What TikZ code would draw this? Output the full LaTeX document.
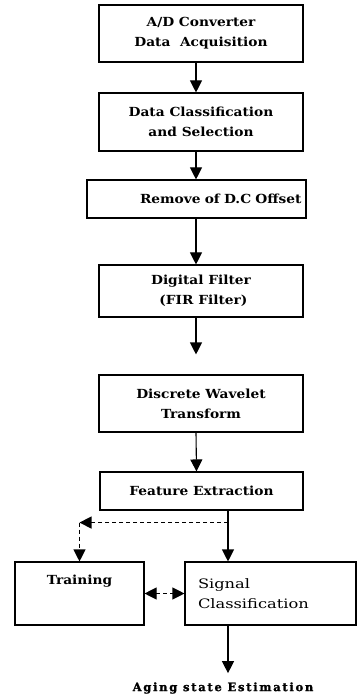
\documentclass[tikz,border=0pt]{standalone}
\usepackage{fontspec}
\setmainfont{DejaVu Serif}[FakeStretch=1.1]
\newfontfamily\sigfont{DejaVu Serif}[FakeStretch=1.25]
\newfontfamily\agingfont{DejaVu Serif}[LetterSpace=15, FakeBold=1.5]
\usetikzlibrary{arrows.meta}
\begin{document}
\begin{tikzpicture}[x=1pt,y=-1pt,
  stage/.style={draw, line width=1.1pt, inner sep=0pt, align=center,
    font=\bfseries\fontsize{12.5}{20}\selectfont, minimum width=204pt},
  flow/.style={line width=1.1pt, -{Triangle[width=12pt,length=12pt]}},
  dflow/.style={flow, dash pattern=on 4pt off 3pt},
  tipboth/.style={{Triangle[width=12pt,length=12pt]}-{Triangle[width=12pt,length=12pt]}}]
\useasboundingbox (0,0) rectangle (358,700);

% processing chain
\node[stage, minimum height=57pt] (adc) at (201,33.5) {A/D Converter\\Data~~Acquisition};
\node[stage, minimum height=58pt] (dcs) at (201,122) {Data Classification\\and Selection};
\node[stage, minimum height=38pt, minimum width=219pt, text width=210pt, align=right] (dco) at (196.5,199) {Remove of D.C Offset};
\node[stage, minimum height=52pt] (fir) at (201,291) {Digital Filter\\\ (FIR Filter)};
\node[stage, minimum height=57pt] (dwt) at (201,403.5) {Discrete Wavelet\\Transform};
\node[stage, minimum height=38pt, minimum width=203pt] (fe) at (201.5,491) {Feature Extraction};

% classifier stage
\node[stage, minimum height=63pt, minimum width=129pt, text depth=27pt] (trn) at (79.5,593.5) {Training};
\node[stage, minimum height=63pt, minimum width=171pt, text width=145pt, align=left,
  font=\sigfont\fontsize{13}{20}\selectfont] (sig) at (270.5,593.5) {Signal\\Classification};

\node[font=\agingfont\bfseries\fontsize{11.5}{12}\selectfont, inner sep=0pt]
  (aging) at (223,688) {Aging state Estimation};

% connectors
\draw[flow] ([xshift=-5pt]adc.south) -- ([xshift=-5pt]dcs.north);
\draw[flow] ([xshift=-5pt]dcs.south) -- ([xshift=-5pt]dcs.south |- dco.north);
\draw[flow] ([xshift=-5pt]dcs.south |- dco.south) -- ([xshift=-5pt]fir.north);
\draw[flow] ([xshift=-5pt]fir.south) -- ([xshift=-5pt,yshift=20pt]dwt.north);
\draw[flow] ([xshift=-5pt]dwt.south) -- ([xshift=-5pt]fe.south |- fe.north);

\coordinate (tap) at ([xshift=26.5pt,yshift=-12pt]fe.south);
\coordinate (bend) at (tap -| trn.north);
\draw[flow] ([xshift=26.5pt]fe.south) -- ([xshift=26.5pt]fe.south |- sig.north);
\draw[dflow] (tap) -- (bend);
\draw[dflow] (bend) -- (trn.north);
\draw[dflow, tipboth] (trn.east) -- (sig.west);
\draw[flow, shorten >=9pt] ([xshift=-42.5pt]sig.south) -- ([xshift=-42.5pt]sig.south |- aging.north);
\end{tikzpicture}
\end{document}
